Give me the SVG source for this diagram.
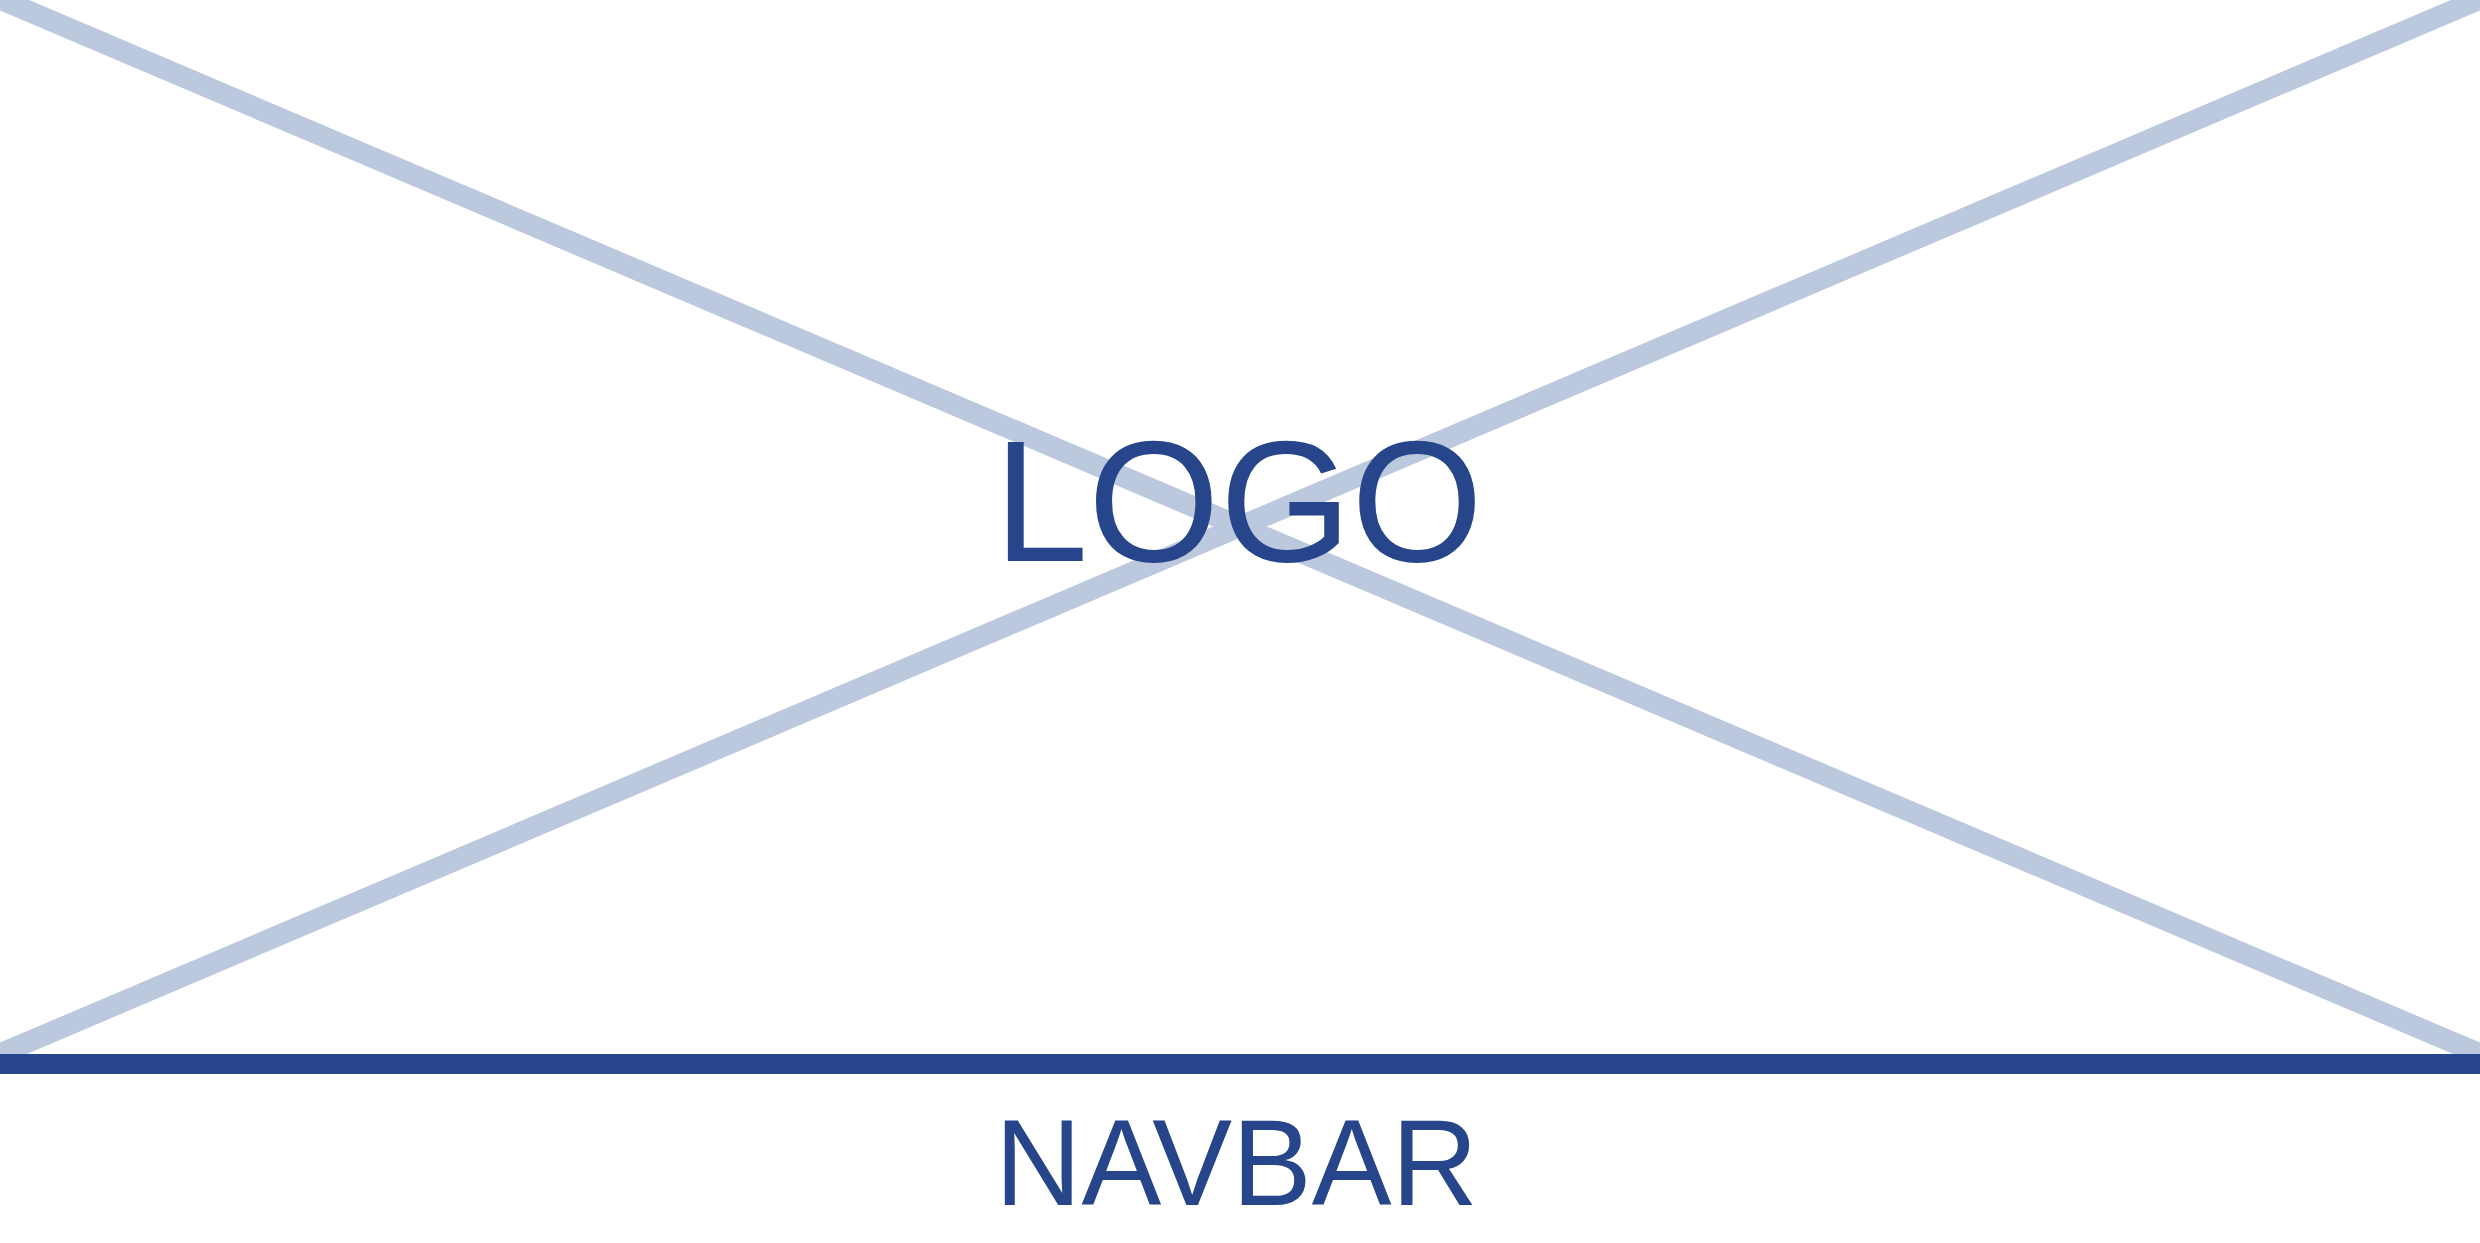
<svg xmlns="http://www.w3.org/2000/svg" width="2480" height="1243" viewBox="0 0 2480 1243">
<style>
.cross{stroke:#bcc8dd;stroke-width:21;fill:none}
.lbl{font-family:"Liberation Sans",Arial,sans-serif;fill:#26458a}
</style>
<rect width="2480" height="1243" fill="#ffffff"/>
<g id="connectors">
<line class="cross" x1="0" y1="-1" x2="2480" y2="1054"/>
<line class="cross" x1="0" y1="1054" x2="2480" y2="-1"/>
</g>
<g id="navbar">
<rect x="0" y="1054" width="2480" height="20" fill="#26458a"/>
<text class="lbl" x="995" y="1205" font-size="123" textLength="483" lengthAdjust="spacingAndGlyphs">NAVBAR</text>
</g>
<g id="logo">
<text class="lbl" x="994" y="561" font-size="173" textLength="489" lengthAdjust="spacingAndGlyphs">LOGO</text>
</g>
</svg>
